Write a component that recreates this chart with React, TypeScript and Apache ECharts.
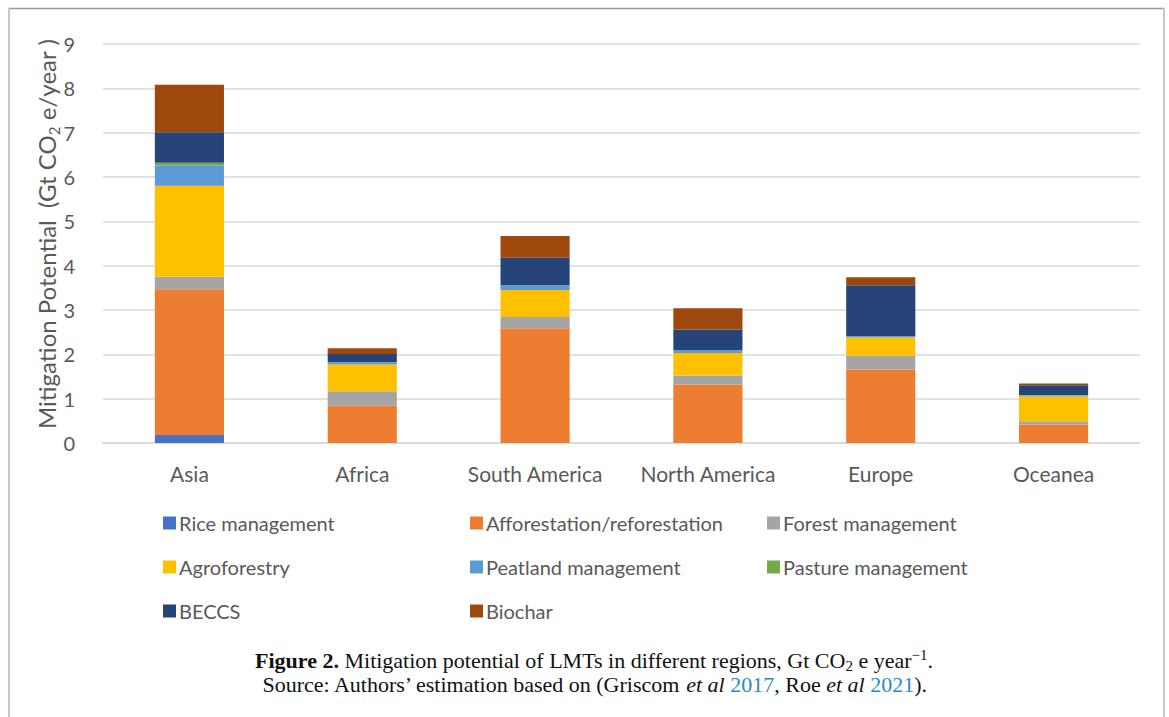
import React, { useEffect, useRef } from "react";
import * as echarts from "echarts";

const regions = ["Asia", "Africa", "South America", "North America", "Europe", "Oceanea"];
const yTicks = [0, 1, 2, 3, 4, 5, 6, 7, 8, 9];

const rice = [0.18, 0, 0, 0, 0, 0];
const afforestation = [3.29, 0.84, 2.59, 1.32, 1.66, 0.42];
const forest = [0.28, 0.33, 0.25, 0.2, 0.31, 0.07];
const agroforestry = [2.05, 0.6, 0.61, 0.51, 0.41, 0.56];
const peatland = [0.46, 0.04, 0.11, 0.06, 0.03, 0.02];
const pasture = [0.06, 0.01, 0.0, 0.0, 0.0, 0.01];
const beccs = [0.69, 0.19, 0.62, 0.47, 1.15, 0.22];
const biochar = [1.07, 0.13, 0.49, 0.48, 0.18, 0.04];

const seriesNames = [
  "Rice management",
  "Afforestation/reforestation",
  "Forest management",
  "Agroforestry",
  "Peatland management",
  "Pasture management",
  "BECCS",
  "Biochar",
];
const seriesValues = [rice, afforestation, forest, agroforestry, peatland, pasture, beccs, biochar];
const colors = ["#4472C4", "#ED7D31", "#A5A5A5", "#FFC000", "#5B9BD5", "#70AD47", "#264478", "#9E480E"];

const legendCols = [
  ["Rice management", "Agroforestry", "BECCS"],
  ["Afforestation/reforestation", "Peatland management", "Biochar"],
  ["Forest management", "Pasture management"],
];
const legendX = [158, 465, 762];

const SANS = "Lato, 'Open Sans', sans-serif";
const SERIF = "'Liberation Serif', 'DejaVu Serif', serif";
const GRAY = "#595959";

export default function App() {
  const ref = useRef<HTMLDivElement>(null);

  useEffect(() => {
    if (!ref.current) return;
    const chart = echarts.init(ref.current, undefined, { renderer: "svg" });

    const option: any = {
      animation: false,
      backgroundColor: "#ffffff",
      color: colors,
      grid: { left: 103, right: 29, top: 44, bottom: 274, containLabel: false },
      xAxis: {
        type: "category",
        data: regions,
        axisLine: { show: true, lineStyle: { color: "#d9d9d9", width: 1.5 } },
        axisTick: { show: false },
        axisLabel: { color: GRAY, fontFamily: SANS, fontSize: 21, margin: 20, interval: 0 },
      },
      yAxis: {
        type: "value",
        min: yTicks[0],
        max: yTicks[yTicks.length - 1],
        interval: 1,
        axisLine: { show: false },
        axisTick: { show: false },
        axisLabel: { color: GRAY, fontFamily: SANS, fontSize: 20, margin: 28 },
        splitLine: { lineStyle: { color: "#d9d9d9", width: 1.5 } },
      },
      legend: legendCols.map((col, i) => ({
        data: col,
        orient: "vertical",
        left: legendX[i],
        top: 506,
        itemWidth: 13,
        itemHeight: 13,
        itemGap: 20,
        icon: "rect",
        selectedMode: false,
        textStyle: { color: GRAY, fontFamily: SANS, fontSize: 20, lineHeight: 24, padding: [0, 0, 0, -2] },
      })),
      series: seriesNames.map((name, i) => ({
        name,
        type: "bar",
        stack: "total",
        barWidth: "40%",
        data: seriesValues[i],
        itemStyle: { color: colors[i] },
      })),
      graphic: [
        { type: "line", shape: { x1: 8, y1: 8.5, x2: 1165, y2: 8.5 }, style: { stroke: "#9a9a9a", lineWidth: 1.5 } },
        { type: "line", shape: { x1: 9, y1: 8, x2: 9, y2: 717 }, style: { stroke: "#c8c8c8", lineWidth: 2 } },
        { type: "line", shape: { x1: 1164, y1: 8, x2: 1164, y2: 717 }, style: { stroke: "#c8c8c8", lineWidth: 2 } },
        {
          type: "text",
          x: 46,
          y: 234,
          rotation: Math.PI / 2,
          style: {
            text: "{a|Mitigation Potential  (Gt CO}{s|2}{a| e/year )}",
            align: "center",
            verticalAlign: "middle",
            rich: {
              a: { fontFamily: SANS, fontSize: 24, fill: GRAY, lineHeight: 30, verticalAlign: "middle" },
              s: { fontFamily: SANS, fontSize: 15, fill: GRAY, lineHeight: 30, verticalAlign: "bottom", padding: [7, 0, 0, 0] },
            },
          },
        },
        {
          type: "text",
          x: 594,
          y: 660,
          style: {
            text: "{b|Figure 2.}{n| Mitigation potential of LMTs in different regions, Gt CO}{s|2}{n| e year}{p|−1}{n|.}",
            align: "center",
            verticalAlign: "middle",
            rich: {
              b: { fontFamily: SERIF, fontSize: 22, fontWeight: "bold", fill: "#111", lineHeight: 26, verticalAlign: "middle" },
              n: { fontFamily: SERIF, fontSize: 22, fill: "#111", lineHeight: 26, verticalAlign: "middle" },
              s: { fontFamily: SERIF, fontSize: 15, fill: "#111", lineHeight: 26, verticalAlign: "bottom", padding: [5, 0, 0, 0] },
              p: { fontFamily: SERIF, fontSize: 15, fill: "#111", lineHeight: 26, verticalAlign: "top", padding: [0, 0, 4, 0] },
            },
          },
        },
        {
          type: "text",
          x: 594,
          y: 684,
          style: {
            text: "{n|Source: Authors’ estimation based on (Griscom }{i|et al}{n| }{l|2017}{n|, Roe }{i|et al}{n| }{l|2021}{n|).}",
            align: "center",
            verticalAlign: "middle",
            rich: {
              n: { fontFamily: SERIF, fontSize: 22, fill: "#111" },
              i: { fontFamily: SERIF, fontSize: 22, fontStyle: "italic", fill: "#111" },
              l: { fontFamily: SERIF, fontSize: 22, fill: "#2a8ac6" },
            },
          },
        },
      ],
    };

    chart.setOption(option);
    return () => chart.dispose();
  }, []);

  return (
    <div
      ref={ref}
      style={{ position: "absolute", left: 0, top: 0, width: 1169, height: 717 }}
    />
  );
}
